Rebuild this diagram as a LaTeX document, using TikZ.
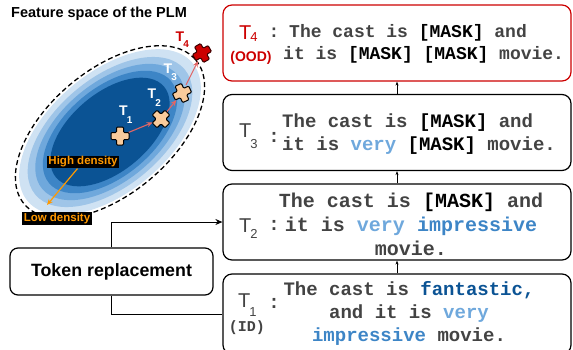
\documentclass[tikz,border=0pt]{standalone}
\usepackage{fontspec}
\setmainfont{Liberation Sans}
\newfontfamily\codefont{Liberation Mono}
\usetikzlibrary{arrows.meta}

\definecolor{txtgray}{HTML}{434343}
\definecolor{oodred}{HTML}{CC0000}
\definecolor{blueA}{HTML}{CFE2F3}
\definecolor{blueB}{HTML}{9FC5E8}
\definecolor{blueC}{HTML}{6FA8DC}
\definecolor{blueD}{HTML}{3D85C6}
\definecolor{blueE}{HTML}{0B5394}
\definecolor{crossfill}{HTML}{F9CB9C}
\definecolor{pathred}{HTML}{E06666}
\definecolor{densorange}{HTML}{FF9900}

\newcommand{\fsz}[2]{\fontsize{#1}{#2}\selectfont}
\newcommand{\mask}{\textcolor{black}{[MASK]}}
\newcommand{\wvery}{\textcolor{blueC}{very}}
\newcommand{\wimp}{\textcolor{blueD}{impressive}}
\newcommand{\wfan}{\textcolor{blueE}{fantastic,}}
% T with a dropped index: number, size of index, drop
\newcommand{\tlab}[3]{T\kern-1pt\raisebox{-#3pt}{\fsz{#2}{#2}#1}}

\tikzset{
  tbox/.style={draw, rounded corners=9pt, line width=1.2pt, minimum width=348pt, minimum height=76pt},
  tokbox/.style={draw, rounded corners=8pt, line width=1.2pt, minimum width=203pt, minimum height=47pt, font=\bfseries\fsz{17.8}{20}},
  sent/.style={text=txtgray, inner sep=0pt},
  blab/.style={anchor=base west, inner sep=0pt, text=txtgray, font=\fsz{20}{22}},
  elab/.style={anchor=base west, inner sep=0pt, text=white, font=\bfseries\fsz{14}{16}},
  dens/.style={fill=black, text=densorange, font=\bfseries\fsz{11.5}{12}, inner xsep=1.5pt, inner ysep=1pt},
  pics/plusmark/.style={code={
    \draw[pic actions, rounded corners=1pt] (-3.5,-9) -- (3.5,-9) -- (3.5,-3.5) -- (9,-3.5) -- (9,3.5) -- (3.5,3.5)
      -- (3.5,9) -- (-3.5,9) -- (-3.5,3.5) -- (-9,3.5) -- (-9,-3.5) -- (-3.5,-3.5) -- cycle;}},
}

\begin{document}
\begin{tikzpicture}[x=1pt, y=-1pt]
  \useasboundingbox (0,0) rectangle (573,349);

  % feature space
  \node[anchor=west, inner sep=0pt, font=\bfseries\fsz{14.5}{16}] (title) at (11,14) {Feature space of the PLM};
  \coordinate (el) at (110,132);
  \foreach \s/\c in {0.96/blueA, 0.87/blueB, 0.79/blueC, 0.71/blueD, 0.63/blueE}
    \fill[\c, rotate around={40:(el)}] (el) ellipse [x radius=112*\s, y radius=62*\s];
  \draw[line width=1.3pt, dash pattern=on 5pt off 3pt, rotate around={40:(el)}] (el) ellipse [x radius=112, y radius=62];

  \coordinate (c1) at (120,136);
  \coordinate (c2) at (161,119);
  \coordinate (c3) at (182,93);
  \coordinate (c4) at (202,53);
  \draw[pathred, line width=1.1pt, shorten <=9pt, shorten >=9pt, -{Stealth[length=6pt,width=5pt]}] (c1) -- (c2);
  \draw[pathred, line width=1.1pt, shorten <=9pt, shorten >=9pt, -{Stealth[length=6pt,width=5pt]}] (c2) -- (c3);
  \draw[pathred, line width=1.1pt, shorten <=9pt, shorten >=9pt, -{Stealth[length=6pt,width=5pt]}] (c3) -- (c4);
  \pic[fill=crossfill, draw=black, line width=1pt] at (c1) {plusmark};
  \pic[fill=crossfill, draw=black, line width=1pt, rotate=45] at (c2) {plusmark};
  \pic[fill=crossfill, draw=black, line width=1pt, rotate=25] at (c3) {plusmark};
  \pic[fill=oodred, draw=black!70!oodred, line width=1pt, rotate=30] at (c4) {plusmark};

  \node[elab] (e1) at (119,115) {\tlab{1}{10}{8}};
  \node[elab] (e2) at (147.5,98) {\tlab{2}{10}{8}};
  \node[elab] (e3) at (163.5,73) {\tlab{3}{10}{7}};
  \node[elab, text=oodred] (e4) at (175.5,41) {\tlab{4}{10}{6}};

  \node[dens] (hd) at (83,162) {High density};
  \node[dens] (ld) at (57,218.5) {Low density};
  \coordinate (lowtip) at (47,205);
  \draw[densorange, line width=1.2pt, -{Stealth[length=6pt,width=5pt]}] (hd) -- (lowtip);

  % sentence boxes
  \node[tbox, draw=oodred] (t4) at (397,43) {};
  \node[tbox] (t3) at (397,132.5) {};
  \node[tbox] (t2) at (397,222) {};
  \node[tbox, minimum height=80pt] (t1) at (397,314) {};

  \node[blab, text=oodred] (l4) at (239,39.5) {\tlab{4}{13}{1.5}};
  \node[inner sep=0pt, text=oodred, font=\bfseries\fsz{14}{16}] (ood) at (251,58) {(OOD)};
  \node[sent, font=\codefont\bfseries\fsz{18}{20}] (k4) at (274,33) {:};
  \node[sent, anchor=west, align=left, font=\codefont\bfseries\fsz{18}{22}] (s4) at (283,44)
    {\hspace*{6pt}The cast is \mask{} and\\it is \mask{} \mask{} movie.};

  \node[blab] (l3) at (239,137) {\tlab{3}{13}{11}};
  \node[sent, font=\codefont\bfseries\fsz{19}{20}] (k3) at (274,137) {:};
  \node[sent, anchor=west, align=left, font=\codefont\bfseries\fsz{19}{23}] (s3) at (282,134.5)
    {The cast is \mask{} and\\it is \wvery{} \mask{} movie.};

  \node[blab] (l2) at (239,232) {\tlab{2}{13}{6}};
  \node[sent, font=\codefont\bfseries\fsz{19}{20}] (k2) at (274,225) {:};
  \node[sent, align=center, font=\codefont\bfseries\fsz{20}{24}] (s2) at (411,224)
    {The cast is \mask{} and\\it is \wvery{} \wimp{}\\movie.};

  \node[blab] (l1) at (238,307) {\tlab{1}{13}{9}};
  \node[sent, font=\codefont\bfseries\fsz{15}{16}] (id) at (247,328) {(ID)};
  \node[sent, font=\codefont\bfseries\fsz{19}{20}] (k1) at (274,303) {:};
  \node[sent, align=center, font=\codefont\bfseries\fsz{19}{23}] (s1) at (409,313)
    {The cast is \wfan{}\\and it is \wvery{}\\\wimp{} movie.};

  \draw[line width=0.6pt, -{Stealth[length=4pt,width=3pt]}] (t1) -- (t2);
  \draw[line width=0.6pt, -{Stealth[length=4pt,width=3pt]}] (t2) -- (t3);
  \draw[line width=0.6pt, -{Stealth[length=4pt,width=3pt]}] (t3) -- (t4);

  % token replacement
  \node[tokbox] (tok) at (111.5,271.5) {Token replacement};
  \draw[line width=1pt, -{Stealth[length=7pt,width=6pt]}] (tok.north) |- (t2.west);
  \draw[line width=1pt] (tok.south) |- (t1.west);
\end{tikzpicture}
\end{document}
